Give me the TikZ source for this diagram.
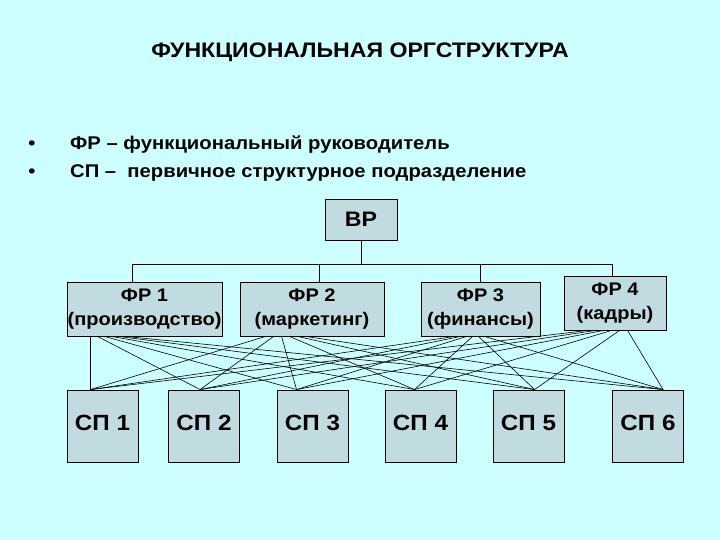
\documentclass[tikz,border=0pt]{standalone}
\usepackage{fontspec}
\setmainfont{Liberation Sans}[FakeStretch=1.1]
\definecolor{slidecyan}{RGB}{204,255,255}
\definecolor{boxgray}{RGB}{192,220,224}
\usetikzlibrary{positioning,calc}

\begin{document}
\begin{tikzpicture}[x=1pt,y=-1pt,
          box/.style={rectangle,draw=black,line width=0.9pt,fill=boxgray,inner sep=0pt,
                      align=center,font=\bfseries\fontsize{18.2}{24}\selectfont},
          frbox/.style={box,minimum height=54pt,text depth=3pt},
          spbox/.style={box,minimum width=71pt,minimum height=72pt,text height=16pt,text depth=8pt,
                        font=\bfseries\fontsize{22}{24}\selectfont},
          bus/.style={draw=black,line width=0.9pt},
          link/.style={draw=black,line width=0.6pt},
          txt/.style={inner sep=0pt,font=\bfseries\fontsize{18.4}{20}\selectfont}]
        \fill[slidecyan] (0,0) rectangle (720,540);
        % title and legend
        \node[inner sep=0pt,anchor=base,font=\bfseries\fontsize{21}{23}\selectfont] (title) at (360,58) {ФУНКЦИОНАЛЬНАЯ ОРГСТРУКТУРА};
        \node[txt,anchor=base] (dot1) at (32,150) {•};
        \node[txt,anchor=base west] (leg1) at (70,150) {ФР – функциональный руководитель};
        \node[txt,anchor=base] (dot2) at (32,178) {•};
        \node[txt,anchor=base west] (leg2) at (70,178) {СП –\ \ первичное структурное подразделение};
        % head
        \node[box,minimum width=72pt,minimum height=41pt,font=\bfseries\fontsize{21}{22}\selectfont] (vr) at (361,219.5) {ВР};
        % functional managers
        \node[frbox,minimum width=155pt] (fr1) at (144.5,309) {ФР 1\\(производство)};
        \node[frbox,minimum width=144pt] (fr2) at (312,309) {ФР 2\\(маркетинг)};
        \node[frbox,minimum width=119pt] (fr3) at (480.5,309) {ФР 3\\(финансы)};
        \node[frbox,minimum width=102pt] (fr4) at (615,303) {ФР 4\\(кадры)};
        % primary units
        \node[spbox] (sp1) at (102.5,426) {СП 1};
        \node[spbox] (sp2) at (204,426) {СП 2};
        \node[spbox] (sp3) at (312.5,426) {СП 3};
        \node[spbox] (sp4) at (420.5,426) {СП 4};
        \node[spbox] (sp5) at (528.5,426) {СП 5};
        \node[spbox] (sp6) at (648,426) {СП 6};
        % bus from the head
        \coordinate (busmid) at ($(vr.south)+(0,24)$);
        \draw[bus] (vr.south) -- (busmid);
        \draw[bus] ([xshift=-12.5pt]fr1.north) |- (busmid);
        \draw[bus] ([xshift=7pt]fr2.north) |- (busmid);
        \draw[bus] (fr3.north) |- (busmid);
        \draw[bus] ([xshift=-3pt]fr4.north) |- (busmid);
        % every manager to every unit
        \foreach \i/\a/\d in {1/24/7,2/26/8,3/34/6,4/24/8}
          \foreach \j/\b in {1/24,2/32,3/20,4/30,5/42,6/51}
            \draw[link] ([xshift={\a+(\j-1)*\d}]fr\i.south west) -- ([xshift=\b]sp\j.north west);
        \end{tikzpicture}
\end{document}
